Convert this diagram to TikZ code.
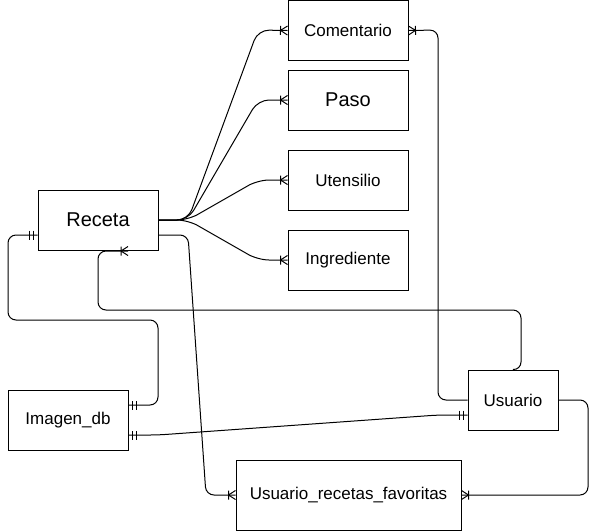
\documentclass[tikz,border=0pt]{standalone}
\usepackage{fontspec}
\setmainfont{Liberation Sans}
\usetikzlibrary{calc}

\pgfdeclarearrow{
  name = CrowOne,
  setup code = {
    \pgfarrowssettipend{0pt}
    \pgfarrowssetlineend{0pt}
    \pgfarrowssetbackend{-8pt}
    \pgfarrowssetvisualbackend{-8pt}
    \pgfarrowshullpoint{0pt}{5pt}
    \pgfarrowshullpoint{0pt}{-5pt}
    \pgfarrowshullpoint{-8pt}{5pt}
    \pgfarrowshullpoint{-8pt}{-5pt}
  },
  drawing code = {
    \pgfsetroundjoin
    \pgfpathmoveto{\pgfqpoint{0pt}{4.5pt}}
    \pgfpathlineto{\pgfqpoint{-7pt}{0pt}}
    \pgfpathlineto{\pgfqpoint{0pt}{-4.5pt}}
    \pgfpathmoveto{\pgfqpoint{-7pt}{4.5pt}}
    \pgfpathlineto{\pgfqpoint{-7pt}{-4.5pt}}
    \pgfusepathqstroke
  }
}

\pgfdeclarearrow{
  name = MandOne,
  setup code = {
    \pgfarrowssettipend{0pt}
    \pgfarrowssetlineend{0pt}
    \pgfarrowssetbackend{-9pt}
    \pgfarrowssetvisualbackend{-9pt}
    \pgfarrowshullpoint{0pt}{5pt}
    \pgfarrowshullpoint{0pt}{-5pt}
    \pgfarrowshullpoint{-9pt}{5pt}
    \pgfarrowshullpoint{-9pt}{-5pt}
  },
  drawing code = {
    \pgfpathmoveto{\pgfqpoint{-4pt}{4.5pt}}
    \pgfpathlineto{\pgfqpoint{-4pt}{-4.5pt}}
    \pgfpathmoveto{\pgfqpoint{-8pt}{4.5pt}}
    \pgfpathlineto{\pgfqpoint{-8pt}{-4.5pt}}
    \pgfusepathqstroke
  }
}

\tikzset{
  entity/.style={draw, line width=1pt, inner sep=0pt, minimum width=120pt,
    minimum height=60pt, font=\fontsize{17}{20}\selectfont},
  bigtext/.style={font=\fontsize{20}{24}\selectfont},
  conn/.style={line width=1pt, rounded corners=8pt},
  fan/.style={line width=1pt, rounded corners=11pt},
}

\begin{document}
\begin{tikzpicture}[x=1pt,y=-1pt]
\useasboundingbox (0,0) rectangle (597,531);

\node[entity] (com) at (348,30.5) {Comentario};
\node[entity, bigtext] (paso) at (348,100) {Paso};
\node[entity] (ute) at (348,180) {Utensilio};
\node[entity] (ing) at (348,260) {Ingrediente};
\node[entity, bigtext] (rec) at (98,220) {Receta};
\node[entity] (img) at (68,420) {Imagen\_db};
\node[entity, minimum width=90pt] (usu) at (513,400) {Usuario};
\node[entity, minimum width=225pt, minimum height=70pt] (urf) at (348.5,495) {Usuario\_recetas\_favoritas};

\coordinate (recb) at (128,251);

% fan from Receta
\draw[fan, -CrowOne] (rec.east) -- (188,220) -- (258,30) -- (com.west);
\draw[fan, -CrowOne] (rec.east) -- (188,220) -- (258,100) -- (paso.west);
\draw[fan, -CrowOne] (rec.east) -- (188,220) -- (258,180) -- (ute.west);
\draw[fan, -CrowOne] (rec.east) -- (188,220) -- (258,260) -- (ing.west);

% Comentario - Usuario
\draw[conn, CrowOne-] (com.east) -- (438,30) -- (438,400) -- (usu.west);

% Usuario - Receta bottom
\draw[conn, -CrowOne] (usu.north) -- (521,370) -- (521,310) -- (98,310) -- (98,251) -- (recb);

% Receta - Imagen_db
\draw[conn, MandOne-MandOne] ($(rec.west)+(0,15)$) -- (8,235) -- (8,320) -- (158,320) -- (158,405) -- ($(img.east)+(0,-15)$);

% Imagen_db - Usuario
\draw[conn, MandOne-MandOne] ($(img.east)+(0,15)$) -- (158,435) -- (438,415) -- ($(usu.west)+(0,15)$);

% Receta - Usuario_recetas_favoritas
\draw[conn, -CrowOne] ($(rec.east)+(0,15)$) -- (188,235) -- (206,495) -- (urf.west);

% Usuario - Usuario_recetas_favoritas
\draw[conn, -CrowOne] (usu.east) -- (588,400) -- (588,495) -- (urf.east);
\end{tikzpicture}
\end{document}
